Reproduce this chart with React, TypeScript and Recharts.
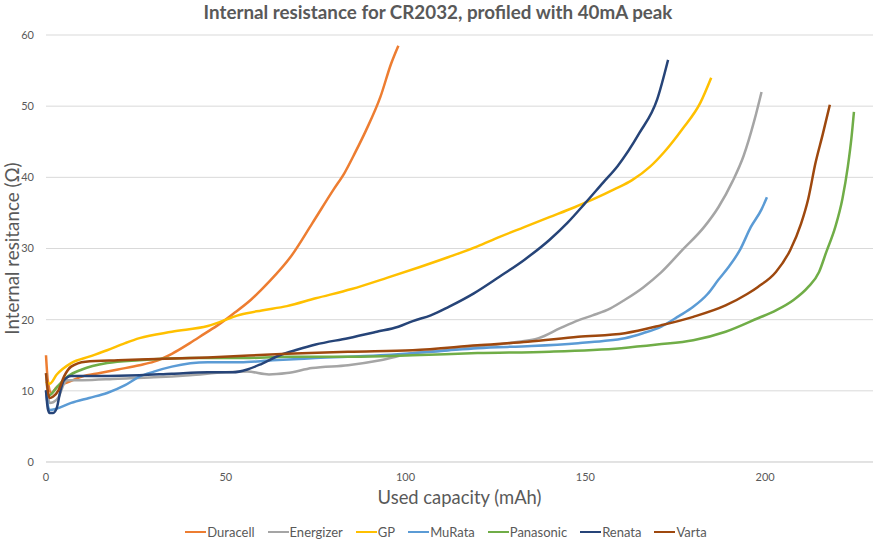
import { LineChart, Line, XAxis, YAxis, CartesianGrid } from "recharts";

// [used capacity (mAh), internal resistance (ohm)]
const duracell = [
  [0, 15], [0.5, 11.5], [1.5, 9.7], [3, 10.5], [6, 11.2], [10, 12], [15, 12.5], [20, 13],
  [26, 13.6], [30, 14.1], [35, 15.2], [40, 16.7], [44, 18], [48, 19.3], [52, 20.8], [57, 22.8],
  [62, 25.3], [68, 28.8], [74, 33.5], [80, 38.3], [83, 40.6], [86, 43.5], [89, 46.6],
  [93, 51.3], [96, 56], [98, 58.5],
];
const energizer = [
  [0, 12.5], [0.5, 9.5], [1, 8.3], [2, 8.4], [3.5, 9.1], [5, 11], [6, 11.5], [10, 11.5],
  [20, 11.7], [30, 11.9], [40, 12.2], [50, 12.6], [56, 12.7], [62, 12.3], [67, 12.5],
  [74, 13.2], [84, 13.6], [93, 14.3], [102, 15.3], [111, 15.7], [120, 16.2], [130, 16.8],
  [137, 17.4], [143, 18.8], [148, 19.9], [152, 20.6], [157, 21.6], [161, 22.8], [166, 24.5],
  [171, 26.6], [177, 29.8], [183, 33], [187, 35.8], [191, 39.5], [194, 43], [197, 48], [199, 52],
];
const gp = [
  [0, 11.3], [1, 11], [3, 12.3], [7, 13.9], [12, 14.8], [17, 15.7], [22, 16.7], [26, 17.4],
  [35, 18.3], [45, 19.1], [54, 20.7], [60, 21.3], [67, 21.9], [75, 23], [85, 24.3], [95, 25.9],
  [104, 27.4], [112, 28.8], [120, 30.3], [126, 31.6], [133, 33], [140, 34.4], [147, 35.8],
  [153, 37.1], [158, 38.3], [163, 39.6], [168, 41.5], [172, 43.6], [177, 46.8], [182, 50.5],
  [185, 54],
];
const murata = [
  [0, 10], [0.5, 8], [1, 7.3], [3, 7.5], [7, 8.3], [12, 9], [17, 9.7], [22, 10.8], [26, 12],
  [30, 12.7], [35, 13.4], [45, 14], [54, 14], [63, 14.3], [75, 14.6], [93, 15], [110, 15.6],
  [120, 16], [135, 16.3], [148, 16.7], [155, 17], [161, 17.4], [166, 18.1], [171, 19],
  [176, 20.5], [180, 21.8], [184, 23.6], [187, 25.6], [190, 27.5], [193, 29.8], [196, 33],
  [199, 35.5], [200.5, 37.2],
];
const panasonic = [
  [0, 10], [1, 9.4], [3, 10.5], [6, 12], [10, 13], [17, 13.9], [26, 14.3], [40, 14.6],
  [55, 14.6], [67, 14.8], [85, 14.8], [102, 15], [120, 15.3], [140, 15.5], [160, 16],
  [170, 16.5], [180, 17.1], [189, 18.3], [198, 20.2], [203, 21.3], [208, 22.8], [212, 24.6],
  [215, 26.7], [217, 29.5], [219.5, 33], [221.5, 37], [223, 41.5], [224, 45.5], [224.7, 49.2],
];
const renata = [
  [0, 10.1], [0.5, 7.5], [1, 6.9], [2, 6.9], [3, 7.6], [4, 10], [5, 11.5], [7, 12.1],
  [15, 12.1], [26, 12.2], [35, 12.4], [45, 12.6], [52, 12.6], [56, 13], [60, 13.8], [65, 15],
  [70, 15.8], [75, 16.5], [84, 17.4], [92, 18.3], [98, 19], [102, 19.8], [107, 20.6],
  [112, 21.8], [119, 23.7], [126, 26], [133, 28.4], [140, 31.2], [145, 33.6], [150, 36.4],
  [155, 39.3], [159, 41.6], [165, 46.2], [170, 51], [173, 56.5],
];
const varta = [
  [0, 12.5], [0.5, 10], [1, 9], [2, 9.2], [3.5, 10.1], [5, 12], [7, 13.4], [11, 14.1],
  [20, 14.3], [26, 14.4], [45, 14.7], [67, 15.2], [84, 15.5], [102, 15.7], [120, 16.4],
  [134, 16.9], [148, 17.6], [161, 18.1], [171, 19.2], [180, 20.4], [189, 22], [195, 23.6],
  [198, 24.6], [203, 26.7], [207, 29.8], [210, 33.5], [212, 37], [214, 42], [216, 46],
  [218, 50.2],
];

const xTicks = [0, 50, 100, 150, 200];
const yTicks = [0, 10, 20, 30, 40, 50, 60];

const series = [
  { name: "Duracell", color: "#ED7D31", points: duracell },
  { name: "Energizer", color: "#A5A5A5", points: energizer },
  { name: "GP", color: "#FFC000", points: gp },
  { name: "MuRata", color: "#5B9BD5", points: murata },
  { name: "Panasonic", color: "#70AD47", points: panasonic },
  { name: "Renata", color: "#264478", points: renata },
  { name: "Varta", color: "#9E480E", points: varta },
];

const font = "Lato, 'Noto Sans', sans-serif";
const textColor = "#595959";

export default function App() {
  return (
    <div style={{ position: "absolute", left: 0, top: 0, width: 876, height: 542, background: "#fff", fontFamily: font }}>
      <div style={{ position: "absolute", top: 0, left: 0, width: 876, textAlign: "center", fontSize: 18.8, lineHeight: "24px", fontWeight: 700, color: textColor }}>
        Internal resistance for CR2032, profiled with 40mA peak
      </div>
      <LineChart width={876} height={542} margin={{ top: 35, right: 3, left: 0, bottom: 30 }}>
        <CartesianGrid stroke="#d9d9d9" vertical={false} />
        <XAxis
          type="number"
          dataKey="x"
          domain={[0, 230]}
          ticks={xTicks}
          tickLine={false}
          axisLine={{ stroke: "#d9d9d9" }}
          tickSize={0}
          tickMargin={11}
          height={50}
          tick={{ fill: textColor, fontSize: 11, fontFamily: font }}
          label={{ value: "Used capacity (mAh)", position: "insideBottom", offset: 8, fill: textColor, fontSize: 18.4, fontFamily: font }}
        />
        <YAxis
          type="number"
          domain={[0, 60]}
          ticks={yTicks}
          tickLine={false}
          axisLine={false}
          tickSize={0}
          tickMargin={12}
          width={46}
          tick={{ fill: textColor, fontSize: 11, fontFamily: font }}
          label={{ value: "Internal resitance (Ω)", angle: -90, position: "center", dx: -11, fill: textColor, fontSize: 18.8, fontFamily: font }}
        />
        {series.map((s) => (
          <Line
            key={s.name}
            data={s.points.map(([x, y]) => ({ x, y }))}
            dataKey="y"
            name={s.name}
            type="monotone"
            stroke={s.color}
            strokeWidth={2.5}
            dot={false}
            isAnimationActive={false}
          />
        ))}
      </LineChart>
      <div style={{ position: "absolute", top: 524, left: 8, width: 876, display: "flex", justifyContent: "center", gap: 13, fontSize: 13, color: textColor }}>
        {series.map((s) => (
          <div key={s.name} style={{ display: "flex", alignItems: "center" }}>
            <span style={{ display: "inline-block", width: 21, height: 2.5, background: s.color, marginRight: 1 }} />
            <span>{s.name}</span>
          </div>
        ))}
      </div>
    </div>
  );
}
